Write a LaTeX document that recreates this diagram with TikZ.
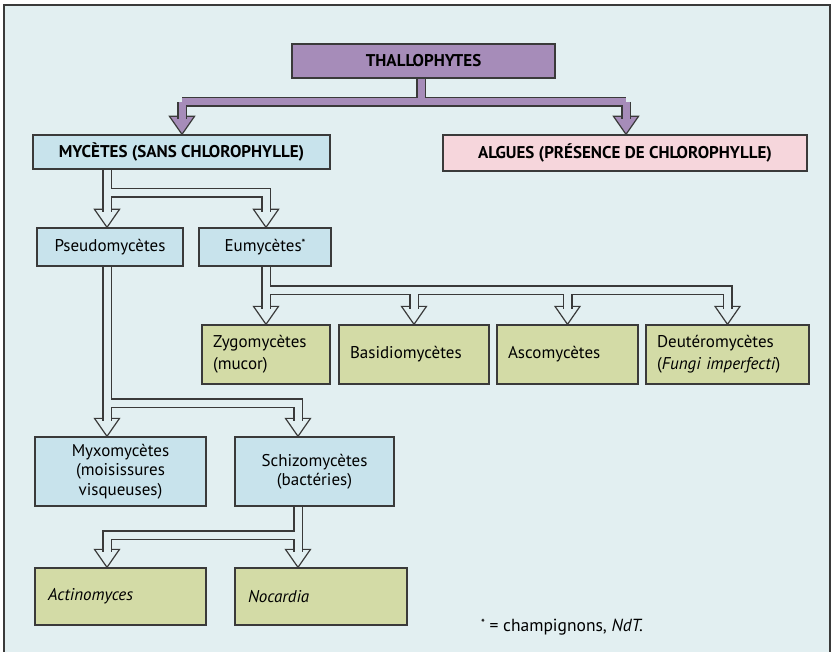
\documentclass[tikz,border=0pt]{standalone}
\usepackage{fontspec}
\setmainfont{PT Sans}
\pgfdeclarelayer{bglayer}
\pgfdeclarelayer{pipelayer}
\pgfsetlayers{bglayer,pipelayer,main}
\definecolor{bgc}{HTML}{E2EFF1}
\definecolor{linec}{HTML}{3A3A3A}
\definecolor{bluebox}{HTML}{C8E3EC}
\definecolor{pinkbox}{HTML}{F6D6DC}
\definecolor{greenbox}{HTML}{D3DBA6}
\definecolor{purplebox}{HTML}{A68CB9}
\newcommand\ahead[2][bgc]{\filldraw[fill=#1,draw=linec,line width=1.2pt,line join=miter] (#2) ++(-12.5,-18) -- ++(25,0) -- (#2) -- cycle;}
\newcommand\bluepipes{
  (107,168) -- (107,212) (107,193) -| (266,212)
  (266,265) -- (266,309) (266,290.5) -| (727.5,309)
  (414,290.5) -- (414,309) (567.5,290.5) -- (567.5,309)
  (107,265) -- (107,421) (107,403) -| (298,421)
  (298,505) -- (298,552) (298,535) -| (107,552)
}
\newcommand\purplepipes{
  (421,77) -- (421,102) (182,102) -- (626,102)
  (182,102) -- (182,119) (626,102) -- (626,119)
}
\newcommand\myast{\raisebox{4.5pt}{\fontsize{10}{10}\selectfont\bfseries *}}
\tikzset{
  box/.style={draw=linec, line width=1.3pt, rectangle, inner sep=0pt, align=center},
  capsbox/.style={box, font=\bfseries\fontsize{17}{19}\selectfont},
  lowbox/.style={box, font=\fontsize{17}{19.5}\selectfont},
  leftbox/.style={box, font=\fontsize{17}{22}\selectfont, align=left, text width=#1},
  pipeout/.style={draw=linec, line width=10pt, line join=miter, line cap=butt},
  pipein/.style={draw=#1, line width=7pt, line join=miter, line cap=butt},
}
\begin{document}
\begin{tikzpicture}[x=1pt,y=-1pt]
\useasboundingbox (0,0) rectangle (835,652);
\begin{pgfonlayer}{bglayer}
  \fill[white] (0,0) rectangle (835,652);
  \draw[fill=bgc, draw=linec, line width=1.5pt] (4,5) rectangle (830,670);
\end{pgfonlayer}

% boxes
\node[capsbox, fill=purplebox, minimum width=263pt, minimum height=34pt] (thal) at (423.5,61) {THALLOPHYTES};
\node[capsbox, fill=bluebox, minimum width=297pt, minimum height=34pt] (myc) at (181.5,152) {MYCÈTES (SANS CHLOROPHYLLE)};
\node[capsbox, fill=pinkbox, minimum width=364pt, minimum height=36pt] (alg) at (625,153) {ALGUES (PRÉSENCE DE CHLOROPHYLLE)};
\node[lowbox, fill=bluebox, minimum width=146pt, minimum height=38pt] (pseudo) at (110,247) {Pseudomycètes};
\node[lowbox, fill=bluebox, minimum width=132pt, minimum height=38pt] (eumy) at (265,247) {Eumycètes\myast};
\node[leftbox=106pt, fill=greenbox, minimum width=128pt, minimum height=59pt] (zygo) at (266,354.5) {Zygomycètes\\(mucor)\\[-4pt]};
\node[leftbox=128pt, fill=greenbox, minimum width=150pt, minimum height=59pt] (basid) at (414,354.5) {Basidiomycètes\\[18pt]};
\node[leftbox=119pt, fill=greenbox, minimum width=141pt, minimum height=59pt] (asco) at (567.5,354.5) {Ascomycètes\\[18pt]};
\node[leftbox=141pt, fill=greenbox, minimum width=163pt, minimum height=59pt] (deut) at (727.5,354.5) {Deutéromycètes\\(\textit{Fungi imperfecti})\\[-4pt]};
\node[lowbox, fill=bluebox, minimum width=171pt, minimum height=69pt] (myxo) at (120.5,471.5) {Myxomycètes\\(moisissures\\visqueuses)};
\node[lowbox, fill=bluebox, minimum width=159pt, minimum height=69pt] (schizo) at (314.5,471.5) {Schizomycètes\\(bactéries)};
\node[leftbox=145pt, fill=greenbox, minimum width=171pt, minimum height=57pt] (actino) at (120.5,596.5) {\textit{Actinomyces}\\[6pt]};
\node[leftbox=146pt, fill=greenbox, minimum width=172pt, minimum height=57pt] (nocard) at (321,596.5) {\textit{Nocardia}\\[6pt]};
\node[font=\fontsize{17.5}{20}\selectfont, anchor=west, inner sep=0pt] (note) at (481,627) {\myast\ = champignons, \textit{NdT.}};

% connectors
\begin{pgfonlayer}{pipelayer}
  \ahead[purplebox]{myc.north -| 182,0}
  \ahead[purplebox]{alg.north -| 626,0}
  \draw[pipeout] \purplepipes;
  \draw[pipein=purplebox] \purplepipes;
  \ahead{pseudo.north -| 107,0}
  \ahead{eumy.north -| 266,0}
  \ahead{zygo.north -| 266,0}
  \ahead{basid.north -| 414,0}
  \ahead{asco.north -| 567.5,0}
  \ahead{deut.north -| 727.5,0}
  \ahead{myxo.north -| 107,0}
  \ahead{schizo.north -| 298,0}
  \ahead{actino.north -| 107,0}
  \ahead{nocard.north -| 298,0}
  \draw[pipeout] \bluepipes;
  \draw[pipein=bgc] \bluepipes;
\end{pgfonlayer}
\end{tikzpicture}
\end{document}
